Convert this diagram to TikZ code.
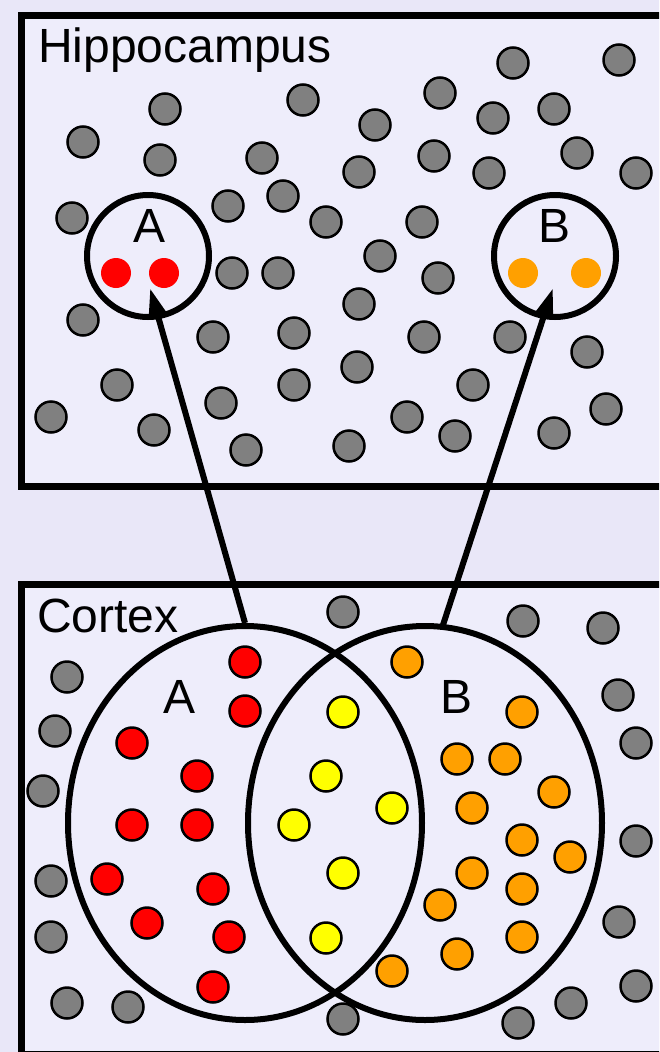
\documentclass[tikz,border=0pt]{standalone}
\usepackage{fontspec}
\setmainfont{Liberation Sans}
\usetikzlibrary{arrows.meta,shapes.geometric}
\definecolor{bgc}{RGB}{233,231,248}
\definecolor{boxc}{RGB}{238,237,251}
\definecolor{dotgrey}{RGB}{128,128,128}
\definecolor{dotred}{RGB}{255,0,0}
\definecolor{dotorange}{RGB}{255,160,0}
\definecolor{dotyellow}{RGB}{255,255,0}
\tikzset{
  frame/.style={draw=black, line width=7pt, fill=boxc, inner sep=0pt, anchor=north west},
  dot/.style={circle, draw=black, line width=2.5pt, minimum size=31pt, inner sep=0pt},
  gd/.style={dot, fill=dotgrey},
  rd/.style={dot, fill=dotred},
  od/.style={dot, fill=dotorange},
  yd/.style={dot, fill=dotyellow},
  sdot/.style={circle, minimum size=30pt, inner sep=0pt},
  ring/.style={circle, draw=black, line width=6pt, minimum size=122pt, inner sep=0pt},
  oval/.style={ellipse, draw=black, line width=6pt, minimum width=354pt, minimum height=394pt, inner sep=0pt},
  link/.style={line width=6pt, -{Triangle[length=30pt,width=18pt]}},
  lbl/.style={font=\fontsize{48}{56}\selectfont, inner sep=0pt, anchor=base},
  title/.style={font=\fontsize{48}{56}\selectfont, inner sep=0pt, anchor=base west}
}
\begin{document}
\begin{tikzpicture}[x=1pt,y=-1pt]
\useasboundingbox (0,0) rectangle (659,1052);
\clip (0,0) rectangle (659,1052);
\fill[bgc] (-5,-5) rectangle (670,1060);
% frames
\node[frame, minimum width=680pt, minimum height=471pt] (hippo) at (18,12) {};
\node[frame, minimum width=680pt, minimum height=470pt] (cortex) at (18,581) {};
% top grey dots
\foreach \x/\y [count=\i] in {165/109,303/100,83/142,160/160,262/158,283/196,228/206,72/218,326/222,
  513/63,619/60,440/93,375/125,493/118,554/109,434/156,577/153,359/172,489/173,636/173,
  422/222,380/256,232/273,278/273,83/320,213/337,294/333,117/385,294/385,51/417,154/430,
  221/403,246/450,438/278,359/304,424/337,510/337,587/352,357/367,473/385,407/417,455/436,
  554/433,606/409,349/446}
  \node[gd] (tg\i) at (\x,\y) {};
% top coloured dots
\node[sdot, fill=dotred] (tr1) at (116,273) {};
\node[sdot, fill=dotred] (tr2) at (164,273) {};
\node[sdot, fill=dotorange] (to1) at (523,273) {};
\node[sdot, fill=dotorange] (to2) at (586,273) {};
% top rings
\node[ring] (ringA) at (148,256) {};
\node[ring] (ringB) at (555,256) {};
\node[lbl] (labA) at (150,242) {A};
\node[lbl] (labB) at (555,242) {B};
% bottom grey dots
\foreach \x/\y [count=\i] in {343/612,523/621,603/628,618/695,636/743,67/677,55/731,43/791,
  51/881,51/937,67/1003,128/1007,343/1019,518/1023,571/1003,636/986,619/922,636/841}
  \node[gd] (bg\i) at (\x,\y) {};
% red
\foreach \x/\y [count=\i] in {245/662,245/711,132/743,197/776,132/825,197/825,107/879,
  213/889,147/923,229/937,213/987}
  \node[rd] (br\i) at (\x,\y) {};
% yellow
\foreach \x/\y [count=\i] in {343/712,326/776,392/808,294/825,343/873,326/938}
  \node[yd] (by\i) at (\x,\y) {};
% orange
\foreach \x/\y [count=\i] in {407/662,522/712,457/759,505/759,554/792,472/808,522/840,
  570/857,472/873,522/889,440/905,522/937,457/954,392/971}
  \node[od] (bo\i) at (\x,\y) {};
% ellipses
\node[oval] (ellA) at (245,823) {};
\node[oval] (ellB) at (425,823) {};
\node[lbl] (labCA) at (180,713) {A};
\node[lbl] (labCB) at (457,713) {B};
% titles
\node[title] (tHippo) at (38,62) {Hippocampus};
\node[title] (tCortex) at (37,632) {Cortex};
% arrows
\coordinate (tipA) at (150,288);
\coordinate (tipB) at (553,288);
\coordinate (startB) at (442,628);
\draw[link] (ellA.north) -- (tipA);
\draw[link] (startB) -- (tipB);
\end{tikzpicture}
\end{document}
